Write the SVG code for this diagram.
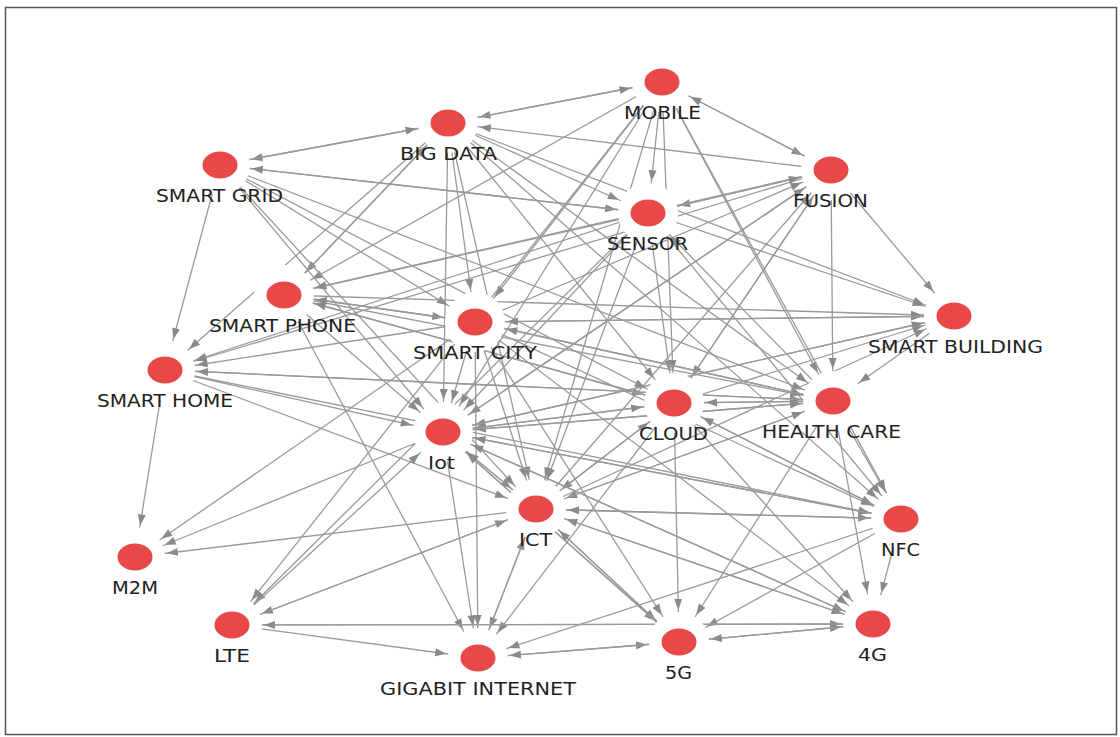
<svg xmlns="http://www.w3.org/2000/svg" width="1120" height="737" viewBox="0 0 1120 737">
<style>
.e{stroke:#9a9a9a;stroke-width:1.3;fill:none;marker-end:url(#a)}
.h{fill:#ffffff}
.n{fill:#e84848}
.t{font-family:"DejaVu Sans",Verdana,sans-serif;font-size:17px;fill:#222222;text-anchor:middle}
</style>
<defs>
<marker id="a" markerUnits="userSpaceOnUse" markerWidth="50" markerHeight="8" viewBox="0 0 50 8" refX="43" refY="4" orient="auto" overflow="visible">
<path d="M0,0 L11,4 L0,8 z" fill="#8a8a8a"/>
</marker>
</defs>
<rect x="0" y="0" width="1120" height="737" fill="#ffffff"/>
<rect x="5.5" y="7.5" width="1111" height="727" fill="none" stroke="#555555" stroke-width="1.5"/>
<g id="connectors">
<line class="e" x1="662" y1="82" x2="648" y2="213"/>
<line class="e" x1="662" y1="82" x2="475" y2="322"/>
<line class="e" x1="662" y1="82" x2="443" y2="432"/>
<line class="e" x1="662" y1="82" x2="536" y2="509"/>
<line class="e" x1="662" y1="82" x2="674" y2="403"/>
<line class="e" x1="662" y1="82" x2="833" y2="401"/>
<line class="e" x1="662" y1="82" x2="901" y2="519"/>
<line class="e" x1="662" y1="82" x2="284" y2="295"/>
<line class="e" x1="662" y1="82" x2="831" y2="170"/>
<line class="e" x1="662" y1="82" x2="448" y2="123"/>
<line class="e" x1="662" y1="82" x2="232" y2="625"/>
<line class="e" x1="448" y1="123" x2="662" y2="82"/>
<line class="e" x1="448" y1="123" x2="220" y2="165"/>
<line class="e" x1="448" y1="123" x2="648" y2="213"/>
<line class="e" x1="448" y1="123" x2="165" y2="370"/>
<line class="e" x1="448" y1="123" x2="475" y2="322"/>
<line class="e" x1="448" y1="123" x2="443" y2="432"/>
<line class="e" x1="448" y1="123" x2="536" y2="509"/>
<line class="e" x1="448" y1="123" x2="674" y2="403"/>
<line class="e" x1="448" y1="123" x2="833" y2="401"/>
<line class="e" x1="448" y1="123" x2="901" y2="519"/>
<line class="e" x1="448" y1="123" x2="284" y2="295"/>
<line class="e" x1="448" y1="123" x2="954" y2="316"/>
<line class="e" x1="220" y1="165" x2="448" y2="123"/>
<line class="e" x1="220" y1="165" x2="648" y2="213"/>
<line class="e" x1="220" y1="165" x2="165" y2="370"/>
<line class="e" x1="220" y1="165" x2="475" y2="322"/>
<line class="e" x1="220" y1="165" x2="443" y2="432"/>
<line class="e" x1="220" y1="165" x2="674" y2="403"/>
<line class="e" x1="220" y1="165" x2="833" y2="401"/>
<line class="e" x1="220" y1="165" x2="536" y2="509"/>
<line class="e" x1="831" y1="170" x2="662" y2="82"/>
<line class="e" x1="831" y1="170" x2="448" y2="123"/>
<line class="e" x1="831" y1="170" x2="648" y2="213"/>
<line class="e" x1="831" y1="170" x2="165" y2="370"/>
<line class="e" x1="831" y1="170" x2="284" y2="295"/>
<line class="e" x1="831" y1="170" x2="954" y2="316"/>
<line class="e" x1="831" y1="170" x2="833" y2="401"/>
<line class="e" x1="831" y1="170" x2="443" y2="432"/>
<line class="e" x1="831" y1="170" x2="674" y2="403"/>
<line class="e" x1="648" y1="213" x2="220" y2="165"/>
<line class="e" x1="648" y1="213" x2="165" y2="370"/>
<line class="e" x1="648" y1="213" x2="284" y2="295"/>
<line class="e" x1="648" y1="213" x2="232" y2="625"/>
<line class="e" x1="648" y1="213" x2="674" y2="403"/>
<line class="e" x1="648" y1="213" x2="536" y2="509"/>
<line class="e" x1="648" y1="213" x2="443" y2="432"/>
<line class="e" x1="648" y1="213" x2="901" y2="519"/>
<line class="e" x1="648" y1="213" x2="954" y2="316"/>
<line class="e" x1="648" y1="213" x2="831" y2="170"/>
<line class="e" x1="284" y1="295" x2="448" y2="123"/>
<line class="e" x1="284" y1="295" x2="475" y2="322"/>
<line class="e" x1="284" y1="295" x2="443" y2="432"/>
<line class="e" x1="284" y1="295" x2="478" y2="658"/>
<line class="e" x1="284" y1="295" x2="833" y2="401"/>
<line class="e" x1="284" y1="295" x2="954" y2="316"/>
<line class="e" x1="284" y1="295" x2="674" y2="403"/>
<line class="e" x1="475" y1="322" x2="165" y2="370"/>
<line class="e" x1="475" y1="322" x2="135" y2="557"/>
<line class="e" x1="475" y1="322" x2="478" y2="658"/>
<line class="e" x1="475" y1="322" x2="679" y2="642"/>
<line class="e" x1="475" y1="322" x2="873" y2="624"/>
<line class="e" x1="475" y1="322" x2="901" y2="519"/>
<line class="e" x1="475" y1="322" x2="536" y2="509"/>
<line class="e" x1="475" y1="322" x2="443" y2="432"/>
<line class="e" x1="475" y1="322" x2="833" y2="401"/>
<line class="e" x1="475" y1="322" x2="954" y2="316"/>
<line class="e" x1="475" y1="322" x2="284" y2="295"/>
<line class="e" x1="475" y1="322" x2="831" y2="170"/>
<line class="e" x1="954" y1="316" x2="833" y2="401"/>
<line class="e" x1="954" y1="316" x2="443" y2="432"/>
<line class="e" x1="954" y1="316" x2="475" y2="322"/>
<line class="e" x1="165" y1="370" x2="135" y2="557"/>
<line class="e" x1="165" y1="370" x2="443" y2="432"/>
<line class="e" x1="165" y1="370" x2="536" y2="509"/>
<line class="e" x1="165" y1="370" x2="901" y2="519"/>
<line class="e" x1="165" y1="370" x2="833" y2="401"/>
<line class="e" x1="674" y1="403" x2="833" y2="401"/>
<line class="e" x1="674" y1="403" x2="443" y2="432"/>
<line class="e" x1="674" y1="403" x2="536" y2="509"/>
<line class="e" x1="674" y1="403" x2="679" y2="642"/>
<line class="e" x1="674" y1="403" x2="873" y2="624"/>
<line class="e" x1="674" y1="403" x2="478" y2="658"/>
<line class="e" x1="674" y1="403" x2="901" y2="519"/>
<line class="e" x1="674" y1="403" x2="954" y2="316"/>
<line class="e" x1="674" y1="403" x2="831" y2="170"/>
<line class="e" x1="674" y1="403" x2="284" y2="295"/>
<line class="e" x1="833" y1="401" x2="674" y2="403"/>
<line class="e" x1="833" y1="401" x2="165" y2="370"/>
<line class="e" x1="833" y1="401" x2="443" y2="432"/>
<line class="e" x1="833" y1="401" x2="536" y2="509"/>
<line class="e" x1="833" y1="401" x2="679" y2="642"/>
<line class="e" x1="833" y1="401" x2="873" y2="624"/>
<line class="e" x1="833" y1="401" x2="901" y2="519"/>
<line class="e" x1="833" y1="401" x2="648" y2="213"/>
<line class="e" x1="833" y1="401" x2="475" y2="322"/>
<line class="e" x1="443" y1="432" x2="135" y2="557"/>
<line class="e" x1="443" y1="432" x2="478" y2="658"/>
<line class="e" x1="443" y1="432" x2="679" y2="642"/>
<line class="e" x1="443" y1="432" x2="873" y2="624"/>
<line class="e" x1="443" y1="432" x2="536" y2="509"/>
<line class="e" x1="443" y1="432" x2="833" y2="401"/>
<line class="e" x1="443" y1="432" x2="674" y2="403"/>
<line class="e" x1="443" y1="432" x2="901" y2="519"/>
<line class="e" x1="443" y1="432" x2="831" y2="170"/>
<line class="e" x1="443" y1="432" x2="954" y2="316"/>
<line class="e" x1="536" y1="509" x2="135" y2="557"/>
<line class="e" x1="536" y1="509" x2="232" y2="625"/>
<line class="e" x1="536" y1="509" x2="478" y2="658"/>
<line class="e" x1="536" y1="509" x2="679" y2="642"/>
<line class="e" x1="536" y1="509" x2="873" y2="624"/>
<line class="e" x1="536" y1="509" x2="901" y2="519"/>
<line class="e" x1="536" y1="509" x2="833" y2="401"/>
<line class="e" x1="536" y1="509" x2="443" y2="432"/>
<line class="e" x1="536" y1="509" x2="831" y2="170"/>
<line class="e" x1="536" y1="509" x2="954" y2="316"/>
<line class="e" x1="536" y1="509" x2="674" y2="403"/>
<line class="e" x1="901" y1="519" x2="536" y2="509"/>
<line class="e" x1="901" y1="519" x2="873" y2="624"/>
<line class="e" x1="901" y1="519" x2="679" y2="642"/>
<line class="e" x1="901" y1="519" x2="478" y2="658"/>
<line class="e" x1="901" y1="519" x2="443" y2="432"/>
<line class="e" x1="901" y1="519" x2="674" y2="403"/>
<line class="e" x1="232" y1="625" x2="536" y2="509"/>
<line class="e" x1="232" y1="625" x2="478" y2="658"/>
<line class="e" x1="232" y1="625" x2="873" y2="624"/>
<line class="e" x1="232" y1="625" x2="443" y2="432"/>
<line class="e" x1="478" y1="658" x2="679" y2="642"/>
<line class="e" x1="478" y1="658" x2="536" y2="509"/>
<line class="e" x1="679" y1="642" x2="478" y2="658"/>
<line class="e" x1="679" y1="642" x2="873" y2="624"/>
<line class="e" x1="679" y1="642" x2="536" y2="509"/>
<line class="e" x1="679" y1="642" x2="443" y2="432"/>
<line class="e" x1="873" y1="624" x2="679" y2="642"/>
<line class="e" x1="873" y1="624" x2="232" y2="625"/>
<line class="e" x1="873" y1="624" x2="536" y2="509"/>
<line class="e" x1="873" y1="624" x2="443" y2="432"/>
</g>
<g id="n-mobile"><circle class="h" cx="662" cy="82" r="30"/><ellipse class="n" cx="662" cy="82" rx="17.5" ry="13.5"/><text class="t" x="662.5" y="119" textLength="77" lengthAdjust="spacingAndGlyphs">MOBILE</text></g>
<g id="n-bigdata"><circle class="h" cx="448" cy="123" r="30"/><ellipse class="n" cx="448" cy="123" rx="17.5" ry="13.5"/><text class="t" x="448.5" y="160" textLength="97" lengthAdjust="spacingAndGlyphs">BIG DATA</text></g>
<g id="n-smartgrid"><circle class="h" cx="220" cy="165" r="30"/><ellipse class="n" cx="220" cy="165" rx="17.5" ry="13.5"/><text class="t" x="219.5" y="202" textLength="127" lengthAdjust="spacingAndGlyphs">SMART GRID</text></g>
<g id="n-fusion"><circle class="h" cx="831" cy="170" r="30"/><ellipse class="n" cx="831" cy="170" rx="17.5" ry="13.5"/><text class="t" x="830.5" y="207" textLength="75" lengthAdjust="spacingAndGlyphs">FUSION</text></g>
<g id="n-sensor"><circle class="h" cx="648" cy="213" r="30"/><ellipse class="n" cx="648" cy="213" rx="17.5" ry="13.5"/><text class="t" x="647.5" y="250" textLength="81" lengthAdjust="spacingAndGlyphs">SENSOR</text></g>
<g id="n-smartphone"><circle class="h" cx="284" cy="295" r="30"/><ellipse class="n" cx="284" cy="295" rx="17.5" ry="13.5"/><text class="t" x="282.5" y="332" textLength="147" lengthAdjust="spacingAndGlyphs">SMART PHONE</text></g>
<g id="n-smartcity"><circle class="h" cx="475" cy="322" r="30"/><ellipse class="n" cx="475" cy="322" rx="17.5" ry="13.5"/><text class="t" x="475" y="359" textLength="124" lengthAdjust="spacingAndGlyphs">SMART CITY</text></g>
<g id="n-smartbuilding"><circle class="h" cx="954" cy="316" r="30"/><ellipse class="n" cx="954" cy="316" rx="17.5" ry="13.5"/><text class="t" x="955.5" y="353" textLength="175" lengthAdjust="spacingAndGlyphs">SMART BUILDING</text></g>
<g id="n-smarthome"><circle class="h" cx="165" cy="370" r="30"/><ellipse class="n" cx="165" cy="370" rx="17.5" ry="13.5"/><text class="t" x="165" y="407" textLength="136" lengthAdjust="spacingAndGlyphs">SMART HOME</text></g>
<g id="n-cloud"><circle class="h" cx="674" cy="403" r="30"/><ellipse class="n" cx="674" cy="403" rx="17.5" ry="13.5"/><text class="t" x="673.5" y="440" textLength="69" lengthAdjust="spacingAndGlyphs">CLOUD</text></g>
<g id="n-healthcare"><circle class="h" cx="833" cy="401" r="30"/><ellipse class="n" cx="833" cy="401" rx="17.5" ry="13.5"/><text class="t" x="831.5" y="438" textLength="139" lengthAdjust="spacingAndGlyphs">HEALTH CARE</text></g>
<g id="n-iot"><circle class="h" cx="443" cy="432" r="30"/><ellipse class="n" cx="443" cy="432" rx="17.5" ry="13.5"/><text class="t" x="441.5" y="469" textLength="27" lengthAdjust="spacingAndGlyphs">Iot</text></g>
<g id="n-ict"><circle class="h" cx="536" cy="509" r="30"/><ellipse class="n" cx="536" cy="509" rx="17.5" ry="13.5"/><text class="t" x="535.5" y="546" textLength="33" lengthAdjust="spacingAndGlyphs">ICT</text></g>
<g id="n-nfc"><circle class="h" cx="901" cy="519" r="30"/><ellipse class="n" cx="901" cy="519" rx="17.5" ry="13.5"/><text class="t" x="900.5" y="556" textLength="39" lengthAdjust="spacingAndGlyphs">NFC</text></g>
<g id="n-m2m"><circle class="h" cx="135" cy="557" r="30"/><ellipse class="n" cx="135" cy="557" rx="17.5" ry="13.5"/><text class="t" x="135" y="594" textLength="46" lengthAdjust="spacingAndGlyphs">M2M</text></g>
<g id="n-lte"><circle class="h" cx="232" cy="625" r="30"/><ellipse class="n" cx="232" cy="625" rx="17.5" ry="13.5"/><text class="t" x="232" y="662" textLength="36" lengthAdjust="spacingAndGlyphs">LTE</text></g>
<g id="n-gigabit"><circle class="h" cx="478" cy="658" r="30"/><ellipse class="n" cx="478" cy="658" rx="17.5" ry="13.5"/><text class="t" x="478" y="695" textLength="196" lengthAdjust="spacingAndGlyphs">GIGABIT INTERNET</text></g>
<g id="n-5g"><circle class="h" cx="679" cy="642" r="30"/><ellipse class="n" cx="679" cy="642" rx="17.5" ry="13.5"/><text class="t" x="678.5" y="679" textLength="27" lengthAdjust="spacingAndGlyphs">5G</text></g>
<g id="n-4g"><circle class="h" cx="873" cy="624" r="30"/><ellipse class="n" cx="873" cy="624" rx="17.5" ry="13.5"/><text class="t" x="872.5" y="661" textLength="29" lengthAdjust="spacingAndGlyphs">4G</text></g>
</svg>
